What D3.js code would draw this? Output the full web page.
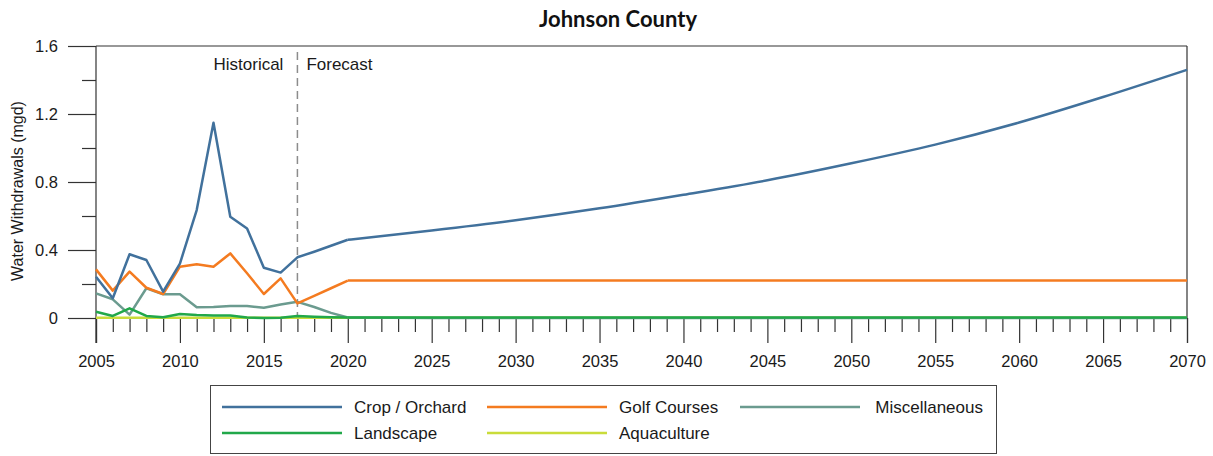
<!DOCTYPE html>
<html>
<head>
<meta charset="utf-8">
<script src="https://cdn.jsdelivr.net/npm/d3@7"></script>
<style>
  html, body { margin: 0; padding: 0; background: #fff; }
  svg { display: block; }
  text { font-family: "Liberation Sans", Arial, sans-serif; fill: #1a1a1a; }
</style>
</head>
<body>
<svg id="chart" width="1213" height="456"></svg>
<script>
// ---------- data ----------
const title = "Johnson County";
const yLabel = "Water Withdrawals (mgd)";
const histYears = [2005,2006,2007,2008,2009,2010,2011,2012,2013,2014,2015,2016,2017,2018,2019,2020];
const fcstYears = [2020,2025,2030,2035,2040,2045,2050,2055,2060,2065,2070];

const cropHist  = [0.243,0.116,0.375,0.341,0.155,0.32,0.635,1.149,0.596,0.527,0.296,0.267,0.357,0.39,0.425,0.46];
const cropFcst  = [0.46,0.515,0.575,0.645,0.725,0.81,0.91,1.02,1.15,1.30,1.46];
const golfHist  = [0.286,0.161,0.273,0.178,0.141,0.302,0.316,0.302,0.38,0.263,0.141,0.233,0.086,0.13,0.175,0.22];
const golfFcst  = [0.22,0.22,0.22,0.22,0.22,0.22,0.22,0.22,0.22,0.22,0.22];
const miscHist  = [0.145,0.11,0.02,0.175,0.14,0.14,0.063,0.065,0.07,0.07,0.06,0.08,0.095,0.065,0.03,0.003];
const miscFcst  = [0.003,0,0,0,0,0,0,0,0,0,0];
const landHist  = [0.037,0.012,0.057,0.012,0.005,0.024,0.018,0.015,0.015,0.003,0,0.002,0.012,0.008,0.005,0.003];
const landFcst  = [0.003,0.003,0.003,0.003,0.003,0.003,0.003,0.003,0.003,0.003,0.003];
const aquaHist  = [0.001,0.001,0.001,0.001,0.001,0.001,0.001,0.001,0.001,0.001,0.001,0.001,0.001,0.001,0.001,0.001];
const aquaFcst  = [0.001,0.001,0.001,0.001,0.001,0.001,0.001,0.001,0.001,0.001,0.001];

const seriesNames  = ["Crop / Orchard","Golf Courses","Miscellaneous","Landscape","Aquaculture"];
const seriesColors = ["#41719c","#f47b20","#6b9b8f","#21a84a","#c9dc3a"];

const yMajorTicks = [0,0.4,0.8,1.2,1.6];
const yMinorTicks = [0.2,0.6,1.0,1.4];
const xMajorTicks = d3.range(2005, 2071, 5);
const xMinorTicks = d3.range(2005, 2071, 1).filter(y => (y - 2005) % 5 !== 0);
const splitYear = 2017;

// ---------- layout ----------
const svg = d3.select("#chart");
const L = 96, R = 1187, T = 46, B = 318;

const x = d3.scaleLinear().domain([2005, 2070]).range([L, R]);
const y = d3.scaleLinear().domain([0, 1.6]).range([B, T]);

// title
svg.append("text").attr("x", 618).attr("y", 27).attr("text-anchor", "middle")
  .style("font-family", "Lato, 'Open Sans', sans-serif").style("font-weight", "700")
  .style("font-size", "22px").style("fill", "#111").text(title);

// y label
svg.append("text").attr("transform", "translate(23,191) rotate(-90)")
  .attr("text-anchor", "middle").style("font-size", "16px").text(yLabel);

// frame: top and right
svg.append("line").attr("x1", L).attr("x2", R).attr("y1", T).attr("y2", T)
  .attr("stroke", "#333").attr("stroke-width", 1.2);
svg.append("line").attr("x1", R).attr("x2", R).attr("y1", T).attr("y2", B)
  .attr("stroke", "#333").attr("stroke-width", 1.2);

// y axis
const yMajor = svg.append("g").attr("transform", `translate(${L},0)`)
  .call(d3.axisLeft(y).tickValues(yMajorTicks).tickSize(28).tickPadding(10)
        .tickFormat(d => d === 0 ? "0" : d3.format(".1f")(d)));
const yMinor = svg.append("g").attr("transform", `translate(${L},0)`)
  .call(d3.axisLeft(y).tickValues(yMinorTicks).tickSize(14).tickFormat(""));

// x axis
const xMajor = svg.append("g").attr("transform", `translate(0,${B})`)
  .call(d3.axisBottom(x).tickValues(xMajorTicks).tickSize(25).tickPadding(12).tickFormat(d3.format("d")));
const xMinor = svg.append("g").attr("transform", `translate(0,${B})`)
  .call(d3.axisBottom(x).tickValues(xMinorTicks).tickSize(14).tickFormat(""));

[yMajor, yMinor, xMajor, xMinor].forEach(g => {
  g.selectAll("path.domain").attr("stroke", "#333").attr("stroke-width", 1.2);
  g.selectAll(".tick line").attr("stroke", "#333").attr("stroke-width", 1.2);
  g.selectAll(".tick text").style("font-family", "'Liberation Sans', Arial, sans-serif")
    .style("font-size", "16.5px").style("fill", "#1a1a1a");
});
yMinor.select("path.domain").remove();
xMinor.select("path.domain").remove();
yMajor.select("path.domain").attr("d", `M0,${T}V${B + 25}`);

// historical / forecast divider
svg.append("line").attr("x1", x(splitYear)).attr("x2", x(splitYear))
  .attr("y1", 52).attr("y2", B)
  .attr("stroke", "#8c8c8c").attr("stroke-width", 1.5).attr("stroke-dasharray", "8,5");
svg.append("text").attr("x", x(splitYear) - 14).attr("y", 70).attr("text-anchor", "end")
  .style("font-size", "17px").text("Historical");
svg.append("text").attr("x", x(splitYear) + 9).attr("y", 70).attr("text-anchor", "start")
  .style("font-size", "17px").text("Forecast");

// series
const hist = [cropHist, golfHist, miscHist, landHist, aquaHist];
const fcst = [cropFcst, golfFcst, miscFcst, landFcst, aquaFcst];
const lineLin = d3.line().x(d => x(d[0])).y(d => y(d[1]));
const lineSmooth = d3.line().x(d => x(d[0])).y(d => y(d[1])).curve(d3.curveMonotoneX);

const drawOrder = [4, 2, 3, 1, 0];
drawOrder.forEach(i => {
  const h = histYears.map((yr, k) => [yr, hist[i][k]]);
  const f = fcstYears.map((yr, k) => [yr, fcst[i][k]]);
  svg.append("path").attr("d", lineLin(h)).attr("fill", "none")
    .attr("stroke", seriesColors[i]).attr("stroke-width", 2.5).attr("stroke-linejoin", "round");
  svg.append("path").attr("d", lineSmooth(f)).attr("fill", "none")
    .attr("stroke", seriesColors[i]).attr("stroke-width", 2.5).attr("stroke-linejoin", "round");
});

// legend
const lg = svg.append("g");
lg.append("rect").attr("x", 210.5).attr("y", 385.5).attr("width", 786).attr("height", 68)
  .attr("fill", "#fff").attr("stroke", "#444").attr("stroke-width", 1);
const legendPos = [[222, 407], [487, 407], [740, 407], [222, 433], [487, 433]];
seriesNames.forEach((name, i) => {
  const [lx, ly] = legendPos[i];
  lg.append("line").attr("x1", lx).attr("x2", lx + 120).attr("y1", ly).attr("y2", ly)
    .attr("stroke", seriesColors[i]).attr("stroke-width", 2.5);
  const t = lg.append("text").attr("y", ly + 6).style("font-size", "17px").text(name);
  if (i === 2) t.attr("x", 983).attr("text-anchor", "end");
  else t.attr("x", lx + 132);
});
</script>
</body>
</html>
